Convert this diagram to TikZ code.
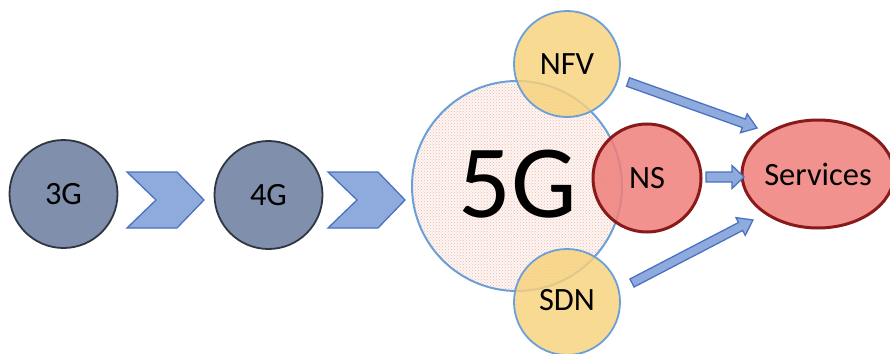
\documentclass[tikz,border=0pt]{standalone}
\usepackage{fontspec}
\setmainfont{Carlito}
\usetikzlibrary{calc,patterns,shapes.geometric}
\definecolor{gnode}{HTML}{7F8FAC}
\definecolor{gline}{HTML}{2F3542}
\definecolor{chev}{HTML}{8FAADC}
\definecolor{chevline}{HTML}{4A72C0}
\definecolor{fiveline}{HTML}{6A9FD8}
\definecolor{fivedot}{HTML}{EDB9AC}
\definecolor{fivebg}{HTML}{FDF6F3}
\definecolor{yel}{HTML}{F8D27A}
\definecolor{nsfill}{HTML}{EF7F7A}
\definecolor{nsline}{HTML}{8A1A1A}
\newcommand\blkarrow[5]{% from, to, half shaft, half head, head length
  \coordinate (bc) at ($(#2)!#5!(#1)$);
  \draw[barrow] ($(#1)!#3!90:(#2)$) -- ($(bc)!#3!90:(#2)$) -- ($(bc)!#4!90:(#2)$) -- (#2)
    -- ($(bc)!#4!-90:(#2)$) -- ($(bc)!#3!-90:(#2)$) -- ($(#1)!#3!-90:(#2)$) -- cycle;}
\begin{document}
\begin{tikzpicture}[x=1pt,y=-1pt,
  lbl/.style={font=\fontsize{32.5}{32.5}\selectfont},
  gen/.style={circle,draw=gline,line width=1.8pt,fill=gnode,minimum size=108pt,inner sep=0pt,lbl},
  chevron/.style={draw=chevline,line width=1.3pt,fill=chev},
  barrow/.style={draw=chevline,line width=1.3pt,fill=chev},
  yelc/.style={circle,draw=fiveline,line width=1.8pt,fill=yel,fill opacity=0.82,text opacity=1,minimum size=106pt,inner sep=0pt,lbl},
  redc/.style={draw=nsline,line width=3pt,fill=nsfill,fill opacity=0.85,text opacity=1,inner sep=0pt,lbl}]
\useasboundingbox (0,0) rectangle (890,353);
\node[gen] (g3) at (63.5,194) {3G};
\node[gen] (g4) at (268.5,195) {4G};
\draw[chevron] (127,172) -- (177,172) -- (204,200) -- (177,228) -- (127,228) -- (156,200) -- cycle;
\draw[chevron] (328,172) -- (378,172) -- (405,200) -- (378,228) -- (328,228) -- (357,200) -- cycle;
% 5G
\fill[fivebg] (517,186) circle[radius=105];
\fill[pattern=crosshatch dots,pattern color=fivedot] (517,186) circle[radius=105];
\node[circle,draw=fiveline,line width=2pt,minimum size=210pt,inner sep=0pt] (g5) at (517,186) {};
\node[font=\fontsize{104}{104}\selectfont] (t5) at (518,184) {5G};
\node[yelc] (nfv) at (567,64) {NFV};
\node[yelc] (sdn) at (567,302) {};
\node[lbl] (sdnt) at (567,300) {SDN};
\node[redc,circle,minimum size=108pt] (ns) at (647,178) {NS};
\node[redc,ellipse,minimum width=142pt,minimum height=108pt] (srv) at (818,174) {Services};
\coordinate (a1s) at (628,82);
\coordinate (a1e) at (757,128);
\coordinate (a2s) at (706,177);
\coordinate (a2e) at (744,177);
\coordinate (a3s) at (632,283);
\coordinate (a3e) at (753,220);
\blkarrow{a1s}{a1e}{4.5pt}{10pt}{14pt}
\blkarrow{a2s}{a2e}{5pt}{11.5pt}{12pt}
\blkarrow{a3s}{a3e}{4.5pt}{10pt}{14pt}
\end{tikzpicture}
\end{document}
